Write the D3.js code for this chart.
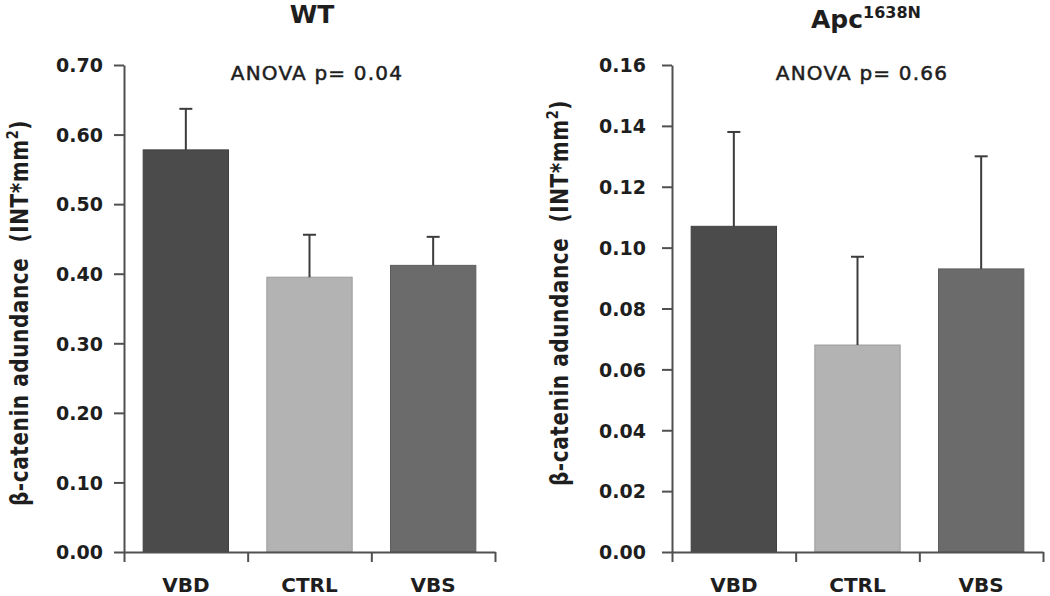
<!DOCTYPE html>
<html>
<head>
<meta charset="utf-8">
<script src="https://cdn.jsdelivr.net/npm/d3@7"></script>
<style>
  body { margin: 0; background: #fff; }
  text { font-family: "DejaVu Sans", Verdana, sans-serif; fill: #1e1e1e; }
  .tick-label { font-weight: bold; font-size: 19px; }
  .cat-label { font-weight: bold; font-size: 20px; }
  .title { font-weight: bold; font-size: 25px; }
  .anova { font-size: 20px; letter-spacing: 1.2px; stroke: #1e1e1e; stroke-width: 0.5px; }
  .y-label { font-weight: bold; font-size: 20px; letter-spacing: 0.6px; }
</style>
</head>
<body>
<div id="viz"></div>
<script>
// Data
const categories = ["VBD", "CTRL", "VBS"];
const wtMeans = [0.578, 0.395, 0.412];
const wtErrors = [0.059, 0.061, 0.041];
const apcMeans = [0.107, 0.068, 0.093];
const apcErrors = [0.031, 0.029, 0.037];
const wtTicks = [0, 0.1, 0.2, 0.3, 0.4, 0.5, 0.6, 0.7];
const apcTicks = [0, 0.02, 0.04, 0.06, 0.08, 0.10, 0.12, 0.14, 0.16];
const barColors = ["#4b4b4b", "#b3b3b3", "#6b6b6b"];

// Geometry
const width = 1050;
const height = 596;
const yBottom = 552;
const yTop = 65;
const axisColor = "#505050";
const errColor = "#3c3c3c";
const capWidth = 13;

const svg = d3.select("#viz").append("svg")
  .attr("width", width)
  .attr("height", height);

svg.append("rect").attr("width", width).attr("height", height).attr("fill", "#fff");

function drawPanel(p) {
  const g = svg.append("g");

  const y = d3.scaleLinear().domain([0, p.yMax]).range([yBottom, yTop]);
  const xBand = d3.scaleBand().domain(categories)
    .range([p.x0, p.x1]).paddingInner(0.31).paddingOuter(0.155);
  const xEdge = d3.scaleLinear().domain([0, categories.length]).range([p.x0, p.x1]);

  // bars
  g.selectAll(".bar")
    .data(categories)
    .enter().append("rect")
    .attr("x", d => xBand(d))
    .attr("width", xBand.bandwidth())
    .attr("y", (d, i) => y(p.means[i]))
    .attr("height", (d, i) => y(0) - y(p.means[i]))
    .attr("fill", (d, i) => barColors[i])
    .attr("stroke", (d, i) => d3.color(barColors[i]).darker(0.4))
    .attr("stroke-width", 1);

  // error bars (upper only)
  const eb = g.selectAll(".err")
    .data(categories)
    .enter().append("g");
  eb.append("line")
    .attr("x1", d => xBand(d) + xBand.bandwidth() / 2)
    .attr("x2", d => xBand(d) + xBand.bandwidth() / 2)
    .attr("y1", (d, i) => y(p.means[i]))
    .attr("y2", (d, i) => y(p.means[i] + p.errors[i]))
    .attr("stroke", errColor).attr("stroke-width", 2);
  eb.append("line")
    .attr("x1", d => xBand(d) + xBand.bandwidth() / 2 - capWidth / 2)
    .attr("x2", d => xBand(d) + xBand.bandwidth() / 2 + capWidth / 2)
    .attr("y1", (d, i) => y(p.means[i] + p.errors[i]))
    .attr("y2", (d, i) => y(p.means[i] + p.errors[i]))
    .attr("stroke", errColor).attr("stroke-width", 2);

  // y axis
  const yAxisG = g.append("g")
    .attr("transform", "translate(" + p.x0 + ",0)")
    .call(d3.axisLeft(y)
      .tickValues(p.ticks)
      .tickFormat(d3.format(".2f"))
      .tickSize(10)
      .tickSizeOuter(0)
      .tickPadding(p.tickPad));
  yAxisG.select(".domain").attr("stroke", axisColor).attr("stroke-width", 2);
  yAxisG.selectAll(".tick line").attr("stroke", axisColor).attr("stroke-width", 2);
  yAxisG.selectAll(".tick text").attr("class", "tick-label").attr("fill", "#1e1e1e")
    .attr("dy", "0.36em").style("font-family", null).style("font-size", null);
  yAxisG.attr("font-family", null).attr("font-size", null);

  // x axis, ticks at category boundaries
  const xAxisG = g.append("g")
    .attr("transform", "translate(0," + yBottom + ")")
    .call(d3.axisBottom(xEdge)
      .tickValues(d3.range(categories.length + 1))
      .tickFormat("")
      .tickSize(10)
      .tickSizeOuter(0));
  xAxisG.select(".domain").attr("stroke", axisColor).attr("stroke-width", 2);
  xAxisG.selectAll(".tick line").attr("stroke", axisColor).attr("stroke-width", 2);

  // category labels
  g.selectAll(".cat")
    .data(categories)
    .enter().append("text")
    .attr("class", "cat-label")
    .attr("x", d => xBand(d) + xBand.bandwidth() / 2)
    .attr("y", 592)
    .attr("text-anchor", "middle")
    .text(d => d);

  // y label (rotated, slightly stretched across like the source)
  const yl = g.append("text")
    .attr("class", "y-label")
    .attr("transform", "translate(" + p.yLabelX + "," + p.yLabelY + ") rotate(-90) scale(1,1.2)")
    .attr("text-anchor", "middle");
  yl.append("tspan").text("\u03b2-catenin adundance\u00a0\u00a0(INT*mm");
  yl.append("tspan").text("2").attr("dy", -8).style("font-size", "13px");
  yl.append("tspan").text(")").attr("dy", 8);

  // ANOVA text
  g.append("text")
    .attr("class", "anova")
    .attr("x", p.anovaX)
    .attr("y", 80)
    .attr("text-anchor", "middle")
    .text(p.anova);

  // title
  const t = g.append("text")
    .attr("class", "title")
    .attr("x", p.titleX)
    .attr("y", p.titleY)
    .attr("text-anchor", "middle");
  t.append("tspan").text(p.title);
  if (p.titleSup) {
    t.append("tspan").text(p.titleSup).attr("dy", -10).style("font-size", "16px");
  }
}

drawPanel({
  x0: 124, x1: 495, yMax: 0.7, ticks: wtTicks, tickPad: 11,
  means: wtMeans, errors: wtErrors,
  yLabelX: 28, yLabelY: 313,
  anova: "ANOVA p= 0.04", anovaX: 317,
  title: "WT", titleSup: null, titleX: 312, titleY: 23
});

drawPanel({
  x0: 672, x1: 1043, yMax: 0.16, ticks: apcTicks, tickPad: 16,
  means: apcMeans, errors: apcErrors,
  yLabelX: 568, yLabelY: 293,
  anova: "ANOVA p= 0.66", anovaX: 862,
  title: "Apc", titleSup: "1638N", titleX: 866, titleY: 28
});
</script>
</body>
</html>
